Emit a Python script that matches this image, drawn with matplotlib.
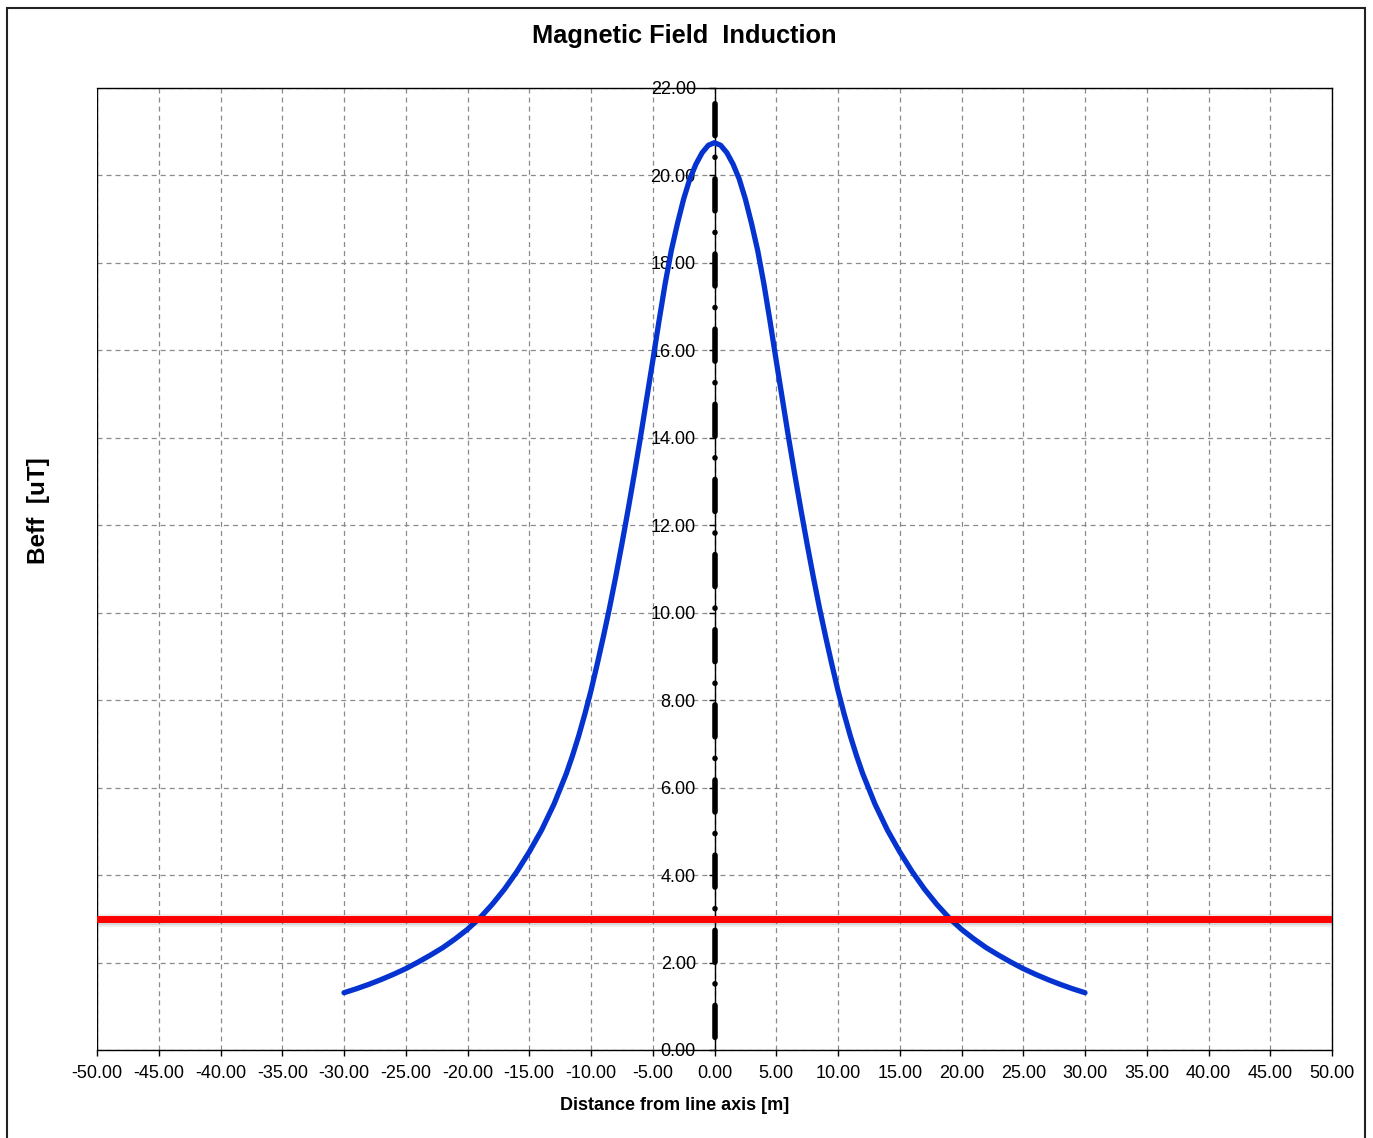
import numpy as np
import matplotlib
matplotlib.use("Agg")
import matplotlib.pyplot as plt
from matplotlib.patches import Rectangle
import matplotlib.patheffects as pe

plt.rcParams["font.family"] = ["Liberation Sans", "DejaVu Sans"]
plt.rcParams["lines.scale_dashes"] = False

# Lateral distance from the line axis [m] and effective flux density [uT]
distance_m = [
    -30, -29, -28, -27, -26, -25, -24, -23, -22, -21, -20, -19, -18, -17, -16,
    -15, -14, -13, -12, -11.5, -11, -10.5, -10, -9.5, -9, -8.5, -8, -7.5, -7,
    -6.5, -6, -5.5, -5, -4.5, -4, -3.5, -3, -2.5, -2, -1.5, -1, -0.5,
    0,
    0.5, 1, 1.5, 2, 2.5, 3, 3.5, 4, 4.5, 5, 5.5, 6, 6.5, 7, 7.5, 8, 8.5, 9,
    9.5, 10, 10.5, 11, 11.5, 12, 13, 14, 15, 16, 17, 18, 19, 20, 21, 22, 23,
    24, 25, 26, 27, 28, 29, 30,
]
beff_ut = [
    1.31, 1.40, 1.50, 1.61, 1.73, 1.86, 2.01, 2.17, 2.34, 2.54, 2.76, 3.02,
    3.33, 3.68, 4.08, 4.53, 5.03, 5.62, 6.32, 6.73, 7.18, 7.68, 8.22, 8.82,
    9.45, 10.11, 10.82, 11.57, 12.35, 13.16, 14.00, 14.88, 15.76, 16.66,
    17.52, 18.28, 18.90, 19.46, 19.92, 20.26, 20.52, 20.69,
    20.75,
    20.69, 20.52, 20.26, 19.92, 19.46, 18.90, 18.28, 17.52, 16.66, 15.76,
    14.88, 14.00, 13.16, 12.35, 11.57, 10.82, 10.11, 9.45, 8.82, 8.22, 7.68,
    7.18, 6.73, 6.32, 5.62, 5.03, 4.53, 4.08, 3.68, 3.33, 3.02, 2.76, 2.54,
    2.34, 2.17, 2.01, 1.86, 1.73, 1.61, 1.50, 1.40, 1.31,
]
limit_ut = 3.0          # reference limit
line_axis_m = 0.0       # position of the line axis

x_ticks = np.arange(-50, 51, 5)
y_ticks = np.arange(0, 23, 2)

W, H = 1373, 1138
fig = plt.figure(figsize=(W / 100, H / 100), dpi=100)
fig.patch.set_facecolor("white")

ax = fig.add_axes([97 / W, 1 - 1050 / H, 1235 / W, 962 / H])
ax.set_xlim(-50, 50)
ax.set_ylim(0, 22)

# grid
ax.set_xticks(x_ticks)
ax.set_yticks(y_ticks)
ax.grid(True, color="#8a8a8a", linestyle=(0, (3.6, 2.9)), linewidth=0.9)
ax.set_axisbelow(True)

# y axis runs through the line axis
ax.spines["left"].set_position(("data", line_axis_m))
for s in ["top", "right", "bottom", "left"]:
    ax.spines[s].set_color("black")
    ax.spines[s].set_linewidth(1.0)
ax.axvline(ax.get_xlim()[0], color="black", linewidth=1.0, zorder=2)

ax.set_xticklabels([f"{v:.2f}" for v in x_ticks])
ax.set_yticklabels([f"{v:.2f}" for v in y_ticks])
ax.tick_params(axis="x", direction="out", length=4, width=1, pad=7, labelsize=13)
ax.tick_params(axis="y", direction="out", length=4.5, width=1, pad=9, labelsize=13)

# field profile
ax.plot(distance_m, beff_ut, color="#0433D0", linewidth=3.8,
        solid_capstyle="round", solid_joinstyle="round", zorder=3)

# limit line with a soft shadow
ax.axhline(limit_ut, color="#FF0000", linewidth=5.0, zorder=4,
           path_effects=[pe.SimpleLineShadow(offset=(0, -1.0), shadow_color="black",
                                             alpha=0.08, linewidth=9),
                         pe.SimpleLineShadow(offset=(0, -0.8), shadow_color="black",
                                             alpha=0.08, linewidth=6.5),
                         pe.Normal()])

# line axis marker
ax.plot([line_axis_m, line_axis_m], [0, 22], color="black", linewidth=4.0,
        linestyle=(45, (23, 15.5, 0.1, 15.5)), dash_capstyle="round",
        solid_capstyle="round", zorder=5)

fig.text(684 / W, 1 - 36 / H, "Magnetic Field  Induction", ha="center", va="center",
         fontsize=18.3, fontweight="bold")
fig.text(675 / W, 1 - 1105 / H, "Distance from line axis [m]", ha="center",
         va="center", fontsize=13, fontweight="bold")
fig.text(38 / W, 1 - 511 / H, "Beff  [uT]", ha="center", va="center",
         rotation=90, fontsize=17.5, fontweight="bold")

# chart area border
fig.add_artist(Rectangle((7 / W, -0.05), (1365 - 7) / W, 1 - 8 / H + 0.05,
                         transform=fig.transFigure, fill=False,
                         edgecolor="#222222", linewidth=1.5))

fig.savefig("out.png", dpi=100)
